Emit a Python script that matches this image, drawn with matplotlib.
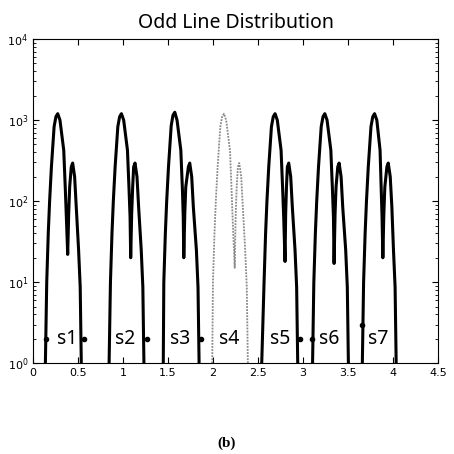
import matplotlib
matplotlib.use("Agg")
import matplotlib.pyplot as plt
from matplotlib.ticker import LogLocator, NullFormatter

# x positions along each distribution
x_s1 = [0.136, 0.151, 0.168, 0.183, 0.203, 0.233, 0.253, 0.273, 0.298, 0.340, 0.358,
        0.369, 0.384, 0.395, 0.406, 0.424, 0.439, 0.461, 0.479, 0.505, 0.523, 0.535]
x_s2 = [0.844, 0.859, 0.876, 0.891, 0.911, 0.941, 0.961, 0.981, 1.006, 1.048, 1.066,
        1.077, 1.084, 1.095, 1.106, 1.117, 1.132, 1.154, 1.172, 1.201, 1.219, 1.231]
x_s3 = [1.446, 1.452, 1.469, 1.484, 1.504, 1.534, 1.554, 1.574, 1.599, 1.641, 1.659,
        1.668, 1.674, 1.685, 1.696, 1.725, 1.740, 1.762, 1.780, 1.814, 1.832, 1.844]
x_s4 = [1.990, 1.998, 2.015, 2.030, 2.050, 2.080, 2.100, 2.120, 2.145, 2.187, 2.205,
        2.216, 2.240, 2.251, 2.262, 2.275, 2.290, 2.312, 2.330, 2.356, 2.374, 2.386]
x_s5 = [2.540, 2.566, 2.583, 2.598, 2.618, 2.648, 2.668, 2.688, 2.713, 2.755, 2.773,
        2.784, 2.799, 2.806, 2.815, 2.825, 2.840, 2.862, 2.880, 2.910, 2.928, 2.940]
x_s6 = [3.105, 3.119, 3.136, 3.151, 3.171, 3.201, 3.221, 3.241, 3.266, 3.308, 3.326,
        3.337, 3.344, 3.355, 3.366, 3.385, 3.400, 3.422, 3.440, 3.473, 3.491, 3.503]
x_s7 = [3.658, 3.672, 3.689, 3.704, 3.724, 3.754, 3.774, 3.794, 3.819, 3.855, 3.868,
        3.877, 3.886, 3.897, 3.908, 3.931, 3.946, 3.968, 3.986, 4.004, 4.022, 4.034]

# counts
y_s1 = [1, 10, 40, 100, 265, 830, 1100, 1200, 1000, 425, 137, 64, 22, 70, 150, 265, 295, 200, 85, 25, 8.7, 1]
y_s2 = [1, 10, 40, 100, 265, 830, 1100, 1200, 1000, 425, 137, 64, 20, 70, 150, 265, 295, 200, 85, 25, 8.7, 1]
y_s3 = [1, 10, 40, 100, 265, 850, 1150, 1250, 1000, 425, 137, 64, 20, 70, 150, 265, 295, 200, 85, 25, 8.7, 1]
y_s4 = [1, 10, 40, 100, 265, 830, 1100, 1200, 1000, 425, 137, 64, 15, 70, 150, 265, 295, 200, 85, 25, 8.7, 1]
y_s5 = [1, 10, 40, 100, 265, 830, 1100, 1200, 1000, 425, 137, 64, 18, 70, 150, 265, 295, 200, 85, 25, 8.7, 1]
y_s6 = [1, 10, 40, 100, 265, 830, 1100, 1200, 1000, 425, 137, 64, 17, 70, 150, 265, 295, 200, 85, 25, 8.7, 1]
y_s7 = [1, 10, 40, 100, 265, 830, 1100, 1200, 1000, 425, 137, 64, 20, 70, 150, 265, 295, 200, 85, 25, 8.7, 1]

xs = [x_s1, x_s2, x_s3, x_s4, x_s5, x_s6, x_s7]
ys = [y_s1, y_s2, y_s3, y_s4, y_s5, y_s6, y_s7]
labels = ["s1", "s2", "s3", "s4", "s5", "s6", "s7"]
label_x = [0.38, 1.02, 1.63, 2.18, 2.74, 3.29, 3.83]

# small markers near the edges
dot_x = [0.14, 0.57, 1.26, 1.87, 2.97, 3.10, 3.65]
dot_y = [2, 2, 2, 2, 2, 2, 3]

fig = plt.figure(figsize=(4.54, 4.54), dpi=100)
ax = fig.add_axes([0.073, 0.2, 0.892, 0.714])

for i in range(7):
    if labels[i] == "s4":
        ax.plot(xs[i], ys[i], color="#8a8a8a", lw=1.3, ls=(0, (1, 0.7)))
    else:
        ax.plot(xs[i], ys[i], color="black", lw=2.2)
    ax.text(label_x[i], 2.0, labels[i], fontsize=14, ha="center", va="center",
            family="Noto Sans")

ax.plot(dot_x, dot_y, "o", color="black", ms=3)

ax.set_yscale("log")
ax.set_xlim(0, 4.5)
ax.set_ylim(1, 1e4)
ax.set_xticks([0, 0.5, 1, 1.5, 2, 2.5, 3, 3.5, 4, 4.5])
ax.set_xticklabels(["0", "0.5", "1", "1.5", "2", "2.5", "3", "3.5", "4", "4.5"])
ax.yaxis.set_major_locator(LogLocator(base=10, numticks=10))
ax.yaxis.set_minor_locator(LogLocator(base=10, subs=range(2, 10), numticks=20))
ax.yaxis.set_minor_formatter(NullFormatter())
ax.tick_params(which="both", direction="in", top=True, right=True, labelsize=8)
ax.tick_params(which="major", length=4)
ax.tick_params(which="minor", length=2)
ax.set_title("Odd Line Distribution", fontsize=14, family="Noto Sans", pad=8)

fig.text(0.5, 0.024, "(b)", ha="center", va="center", fontsize=11,
         fontweight="bold", family="Liberation Serif")

fig.savefig("out.png", dpi=100)
